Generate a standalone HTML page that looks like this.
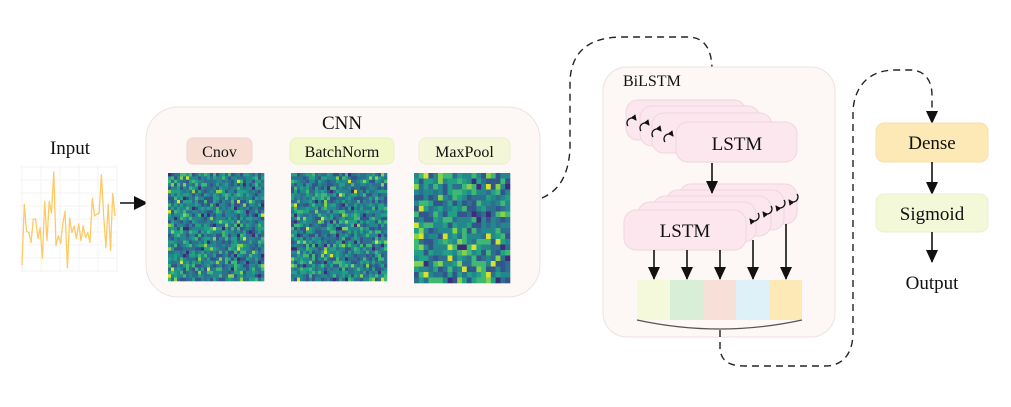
<!DOCTYPE html>
<html><head><meta charset="utf-8"><style>
html,body{margin:0;padding:0;background:#fff;}
svg text{font-family:"Liberation Serif",serif;fill:#111;}
</style></head><body>
<svg id="fig" width="1011" height="402" viewBox="0 0 1011 402" xmlns="http://www.w3.org/2000/svg">
<defs>
<marker id="ah" markerWidth="14" markerHeight="14" refX="12" refY="7" orient="auto" markerUnits="userSpaceOnUse"><path d="M0,1 L13,7 L0,13 z" fill="#111"/></marker>
<marker id="ah2" markerWidth="14" markerHeight="14" refX="12" refY="7" orient="auto" markerUnits="userSpaceOnUse"><path d="M0,0 L14,7 L0,14 z" fill="#111"/></marker>
<marker id="ahs" markerWidth="6" markerHeight="6" refX="5" refY="3" orient="auto" markerUnits="userSpaceOnUse"><path d="M0,0 L6,3 L0,6 z" fill="#111"/></marker>
</defs>

<!-- Input -->
<text x="70" y="154" font-size="19" text-anchor="middle">Input</text>
<g id="input-grid"></g>
<polyline id="signal" fill="none" stroke="#ffc964" stroke-width="1.3" stroke-linejoin="round"/>
<line x1="120" y1="203" x2="146" y2="203" stroke="#111" stroke-width="1.6" marker-end="url(#ah2)"/>

<!-- CNN -->
<rect x="146" y="107" width="394" height="190" rx="32" fill="#fdf7f5" stroke="#ebe3e1"/>
<text x="342" y="129" font-size="19" text-anchor="middle">CNN</text>
<rect x="187" y="138" width="65" height="26" rx="6" fill="#f6ddd3" stroke="#eed6cc"/>
<text x="219.5" y="157" font-size="16" text-anchor="middle">Cnov</text>
<rect x="290" y="138" width="104" height="26" rx="7" fill="#f0f7c8" stroke="#e7efc0"/>
<text x="342" y="157" font-size="16" text-anchor="middle">BatchNorm</text>
<rect x="419" y="138" width="91" height="26" rx="7" fill="#f3f7d8" stroke="#eaefce"/>
<text x="464.5" y="157" font-size="16" text-anchor="middle">MaxPool</text>
<g id="hm1"></g>
<g id="hm2"></g>
<g id="hm3"></g>

<!-- dashed connector CNN -> BiLSTM -->
<path d="M542,198 C560,190 568,175 570,150 L570,80 C572,50 590,38 620,37 L690,37 C705,38 712,50 712,70 L712,108" fill="none" stroke="#222" stroke-width="1.4" stroke-dasharray="7,5" marker-end="url(#ah)"/>

<!-- BiLSTM -->
<rect x="603" y="67" width="232" height="270" rx="24" fill="#fdf7f5" stroke="#ebe3e1"/>
<text x="623" y="86" font-size="16">BiLSTM</text>
<g>
<rect x="626" y="100" width="120" height="40" rx="12" fill="#fce7ef" stroke="#f0d6e0"/>
<rect x="640" y="106" width="120" height="40" rx="12" fill="#fce7ef" stroke="#f0d6e0"/>
<rect x="652" y="113" width="120" height="40" rx="12" fill="#fce7ef" stroke="#f0d6e0"/>
<rect x="676" y="122" width="121" height="40" rx="12" fill="#fce7ef" stroke="#f0d6e0"/>
<path d="M628,126 a5,5 0 0 1 8,-6" fill="none" stroke="#111" stroke-width="1.3" marker-end="url(#ahs)"/>
<path d="M641,131 a5,5 0 0 1 8,-6" fill="none" stroke="#111" stroke-width="1.3" marker-end="url(#ahs)"/>
<path d="M653,137 a5,5 0 0 1 8,-6" fill="none" stroke="#111" stroke-width="1.3" marker-end="url(#ahs)"/>
<path d="M665,142 a5,5 0 0 1 8,-6" fill="none" stroke="#111" stroke-width="1.3" marker-end="url(#ahs)"/>
<text x="737" y="150" font-size="19" text-anchor="middle">LSTM</text>
</g>
<g>
<rect x="679" y="184" width="118" height="40" rx="12" fill="#fce7ef" stroke="#f0d6e0"/>
<rect x="666" y="190" width="118" height="40" rx="12" fill="#fce7ef" stroke="#f0d6e0"/>
<rect x="653" y="196" width="118" height="40" rx="12" fill="#fce7ef" stroke="#f0d6e0"/>
<rect x="638" y="202" width="118" height="40" rx="12" fill="#fce7ef" stroke="#f0d6e0"/>
<rect x="624" y="210" width="122" height="40" rx="12" fill="#fce7ef" stroke="#f0d6e0"/>
<path d="M797,194 a5,5 0 0 1 -8,6" fill="none" stroke="#111" stroke-width="1.3" marker-end="url(#ahs)"/>
<path d="M784,200 a5,5 0 0 1 -8,6" fill="none" stroke="#111" stroke-width="1.3" marker-end="url(#ahs)"/>
<path d="M771,206 a5,5 0 0 1 -8,6" fill="none" stroke="#111" stroke-width="1.3" marker-end="url(#ahs)"/>
<path d="M758,213 a5,5 0 0 1 -8,6" fill="none" stroke="#111" stroke-width="1.3" marker-end="url(#ahs)"/>
<text x="685" y="237" font-size="19" text-anchor="middle">LSTM</text>
</g>
<line x1="712" y1="163" x2="712" y2="193" stroke="#111" stroke-width="1.6" marker-end="url(#ah)"/>
<g id="outs">
<line x1="654" y1="250" x2="654" y2="279" stroke="#111" stroke-width="1.6" marker-end="url(#ah)"/>
<line x1="687" y1="250" x2="687" y2="279" stroke="#111" stroke-width="1.6" marker-end="url(#ah)"/>
<line x1="720" y1="250" x2="720" y2="279" stroke="#111" stroke-width="1.6" marker-end="url(#ah)"/>
<line x1="753" y1="240" x2="753" y2="279" stroke="#111" stroke-width="1.6" marker-end="url(#ah)"/>
<line x1="786" y1="224" x2="786" y2="279" stroke="#111" stroke-width="1.6" marker-end="url(#ah)"/>
</g>
<g>
<rect x="637" y="280" width="33" height="40" fill="#f5f9dc"/>
<rect x="670" y="280" width="33" height="40" fill="#d8eed6"/>
<rect x="703" y="280" width="33" height="40" fill="#f8e0d8"/>
<rect x="736" y="280" width="33" height="40" fill="#def1f8"/>
<rect x="769" y="280" width="33" height="40" fill="#fde9b6"/>
</g>
<path d="M637,320 Q720,338 802,320" fill="none" stroke="#555" stroke-width="1.3"/>

<!-- dashed connector BiLSTM -> Dense -->
<path d="M720,330 L720,350 C722,362 730,366 745,366 L825,366 C842,366 852,355 853,335 L853,110 C855,85 870,70 895,70 L912,70 C926,71 932,82 932,95 L932,123" fill="none" stroke="#222" stroke-width="1.4" stroke-dasharray="7,5" marker-end="url(#ah)"/>

<!-- head -->
<rect x="876" y="123" width="112" height="39" rx="8" fill="#fde9b6" stroke="#f5e0ae"/>
<text x="932" y="149" font-size="19" text-anchor="middle">Dense</text>
<line x1="932" y1="162" x2="932" y2="194" stroke="#111" stroke-width="1.6" marker-end="url(#ah)"/>
<rect x="876" y="194" width="112" height="38" rx="8" fill="#f3f8d8" stroke="#eaf0cf"/>
<text x="932" y="220" font-size="19" text-anchor="middle">Sigmoid</text>
<line x1="932" y1="232" x2="932" y2="262" stroke="#111" stroke-width="1.6" marker-end="url(#ah)"/>
<text x="932" y="289" font-size="19" text-anchor="middle">Output</text>
</svg>
<script>
const signalValues=[5,67,40,38,28,52,52,32,43,12,70,30,70,58,100,25,35,27,47,60,2,53,38,45,32,47,30,45,33,38,28,73,55,57,58,97,55,23,67,20,78,55];
const signalRange=[0,105];
const NS="http://www.w3.org/2000/svg";
const sx0=22,sx1=115,sy0=270,sy1=167;
const xS=i=>sx0+(sx1-sx0)*i/(signalValues.length-1);
const yS=v=>sy0-(v-signalRange[0])/(signalRange[1]-signalRange[0])*(sy0-sy1);
const grid=document.getElementById('input-grid');
for(let i=0;i<=5;i++){const x=sx0+i*19;const l=document.createElementNS(NS,'line');l.setAttribute('x1',x);l.setAttribute('x2',x);l.setAttribute('y1',165);l.setAttribute('y2',272);l.setAttribute('stroke','#f3f3f3');


grid.appendChild(l);}
for(let j=0;j<=8;j++){const y=167+j*13;const l=document.createElementNS(NS,'line');l.setAttribute('x1',20);l.setAttribute('x2',117);l.setAttribute('y1',y);l.setAttribute('y2',y);l.setAttribute('stroke','#f3f3f3');


grid.appendChild(l);}
document.getElementById('signal').setAttribute('points',signalValues.map((v,i)=>xS(i).toFixed(1)+','+yS(v).toFixed(1)).join(' '));
const viridis=['#3e2b7a','#33558b','#2c6f8e','#23878d','#21a086','#3fb874','#86d04a','#d6e22b'];
function hash(a,b,s){let h=(a*374761393+b*668265263+s*2147483647)|0;h=(h^(h>>>13))*1274126177|0;h=h^(h>>>16);return (h>>>0)/4294967296;}
function heat(id,x,y,w,h,n,seed,t){const g=document.getElementById(id);const cw=w/n,ch=h/n;
for(let r=0;r<n;r++)for(let c=0;c<n;c++){const u=hash(r,c,seed);let k=0;while(k<7&&u>=t[k])k++;
const e=document.createElementNS(NS,'rect');e.setAttribute('x',(x+c*cw).toFixed(2));e.setAttribute('y',(y+r*ch).toFixed(2));e.setAttribute('width',(cw+0.3).toFixed(2));e.setAttribute('height',(ch+0.3).toFixed(2));e.setAttribute('fill',viridis[k]);


g.appendChild(e);}}
const tA=[0.03,0.2,0.45,0.7,0.86,0.95,0.985];
const tB=[0.05,0.2,0.38,0.58,0.76,0.9,0.97];
heat('hm1',168,173,96,108,32,1,tA);
heat('hm2',291,173,96,108,32,7,tA);
heat('hm3',414,173,96,110,20,13,tB);
</script>
</body></html>
